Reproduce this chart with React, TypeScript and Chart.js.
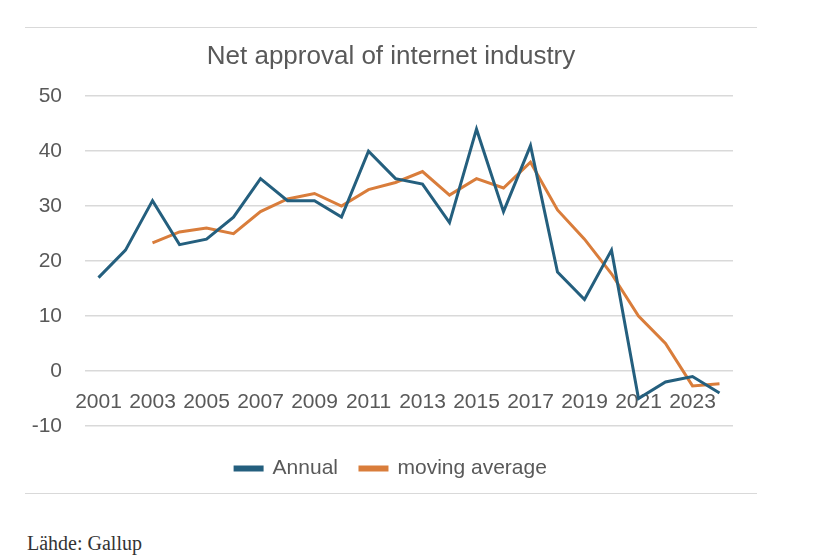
import React, { useEffect, useRef } from "react";
import { Chart, registerables } from "chart.js";

Chart.register(...registerables);

const years = ["2001","2002","2003","2004","2005","2006","2007","2008","2009","2010","2011","2012","2013","2014","2015","2016","2017","2018","2019","2020","2021","2022","2023","2024"];
const annual = [17, 22, 31, 23, 24, 28, 35, 31, 31, 28, 40, 35, 34, 27, 44, 29, 41, 18, 13, 22, -5, -2, -1, -4];
const movingAverage = [null, null, 23.3, 25.3, 26, 25, 29, 31.3, 32.3, 30, 33, 34.3, 36.3, 32, 35, 33.3, 38, 29.3, 24, 17.7, 10, 5, -2.7, -2.3];
const yTicks = [50, 40, 30, 20, 10, 0, -10];
const titleText = "Net approval of internet industry";
const sourceText = "Lähde: Gallup";

const BLUE = "#245f7e";
const ORANGE = "#d97d3b";
const TEXT = "#595959";
const GRID = "#d9d9d9";
const FONT = "'Liberation Sans', Arial, sans-serif";

export default function App() {
  const ref = useRef<HTMLCanvasElement | null>(null);
  useEffect(() => {
    if (!ref.current) return;
    const chart = new Chart(ref.current, {
      type: "line",
      data: {
        labels: years,
        datasets: [
          { label: "Annual", data: annual, borderColor: BLUE, backgroundColor: BLUE, borderWidth: 3, pointRadius: 0, tension: 0 },
          { label: "moving average", data: movingAverage, borderColor: ORANGE, backgroundColor: ORANGE, borderWidth: 3, pointRadius: 0, tension: 0, spanGaps: false },
        ],
      },
      options: {
        animation: false,
        responsive: false,
        maintainAspectRatio: false,
        layout: { padding: { left: 0, right: 0, top: 0, bottom: 3 } },
        plugins: {
          title: {
            display: true,
            text: titleText,
            color: TEXT,
            font: { family: FONT, size: 26, weight: "normal" },
            padding: { top: 13, bottom: 24 },
          },
          legend: {
            display: true,
            position: "bottom",
            labels: {
              color: TEXT,
              font: { family: FONT, size: 21 },
              boxWidth: 27,
              boxHeight: 3,
              padding: 22,
            },
          },
          tooltip: { enabled: false },
        },
        scales: {
          x: {
            type: "category",
            position: { y: 0 } as any,
            offset: true,
            grid: { display: false, drawTicks: false },
            border: { display: false },
            ticks: {
              color: TEXT,
              font: { family: FONT, size: 21 },
              autoSkip: false,
              maxRotation: 0,
              padding: 19,
              callback: (_v: any, i: number) => (i % 2 === 0 ? years[i] : ""),
            },
          },
          xPad: {
            type: "category",
            position: "bottom",
            display: true,
            afterFit: (s: any) => { s.height = 10; },
            grid: { display: false, drawTicks: false },
            border: { display: false },
            ticks: { display: false },
          },
          y: {
            min: -10,
            max: 50,
            afterFit: (s: any) => { s.width = 60; },
            afterBuildTicks: (s: any) => { s.ticks = yTicks.map((v) => ({ value: v })); },
            grid: { color: GRID, lineWidth: 1.5, drawTicks: false },
            border: { display: false },
            ticks: { color: TEXT, font: { family: FONT, size: 21 }, padding: 23 },
          },
          yPad: {
            type: "linear",
            position: "right",
            display: true,
            afterFit: (s: any) => { s.width = 24; },
            grid: { display: false, drawTicks: false },
            border: { display: false },
            ticks: { display: false },
          },
        },
      },
    });
    return () => chart.destroy();
  }, []);

  return (
    <div style={{ position: "absolute", left: 0, top: 0, width: 820, height: 558, background: "#fff" }}>
      <div style={{ position: "absolute", left: 25, top: 27, width: 732, height: 465, borderTop: `1.5px solid ${GRID}`, borderBottom: `1.5px solid ${GRID}` }} />
      <canvas ref={ref} width={732} height={464} style={{ position: "absolute", left: 25, top: 28, width: 732, height: 464 }} />
      <div style={{ position: "absolute", left: 27, top: 532, fontFamily: "'Liberation Serif', 'Times New Roman', serif", fontSize: 20, color: "#333", whiteSpace: "nowrap" }}>{sourceText}</div>
    </div>
  );
}
